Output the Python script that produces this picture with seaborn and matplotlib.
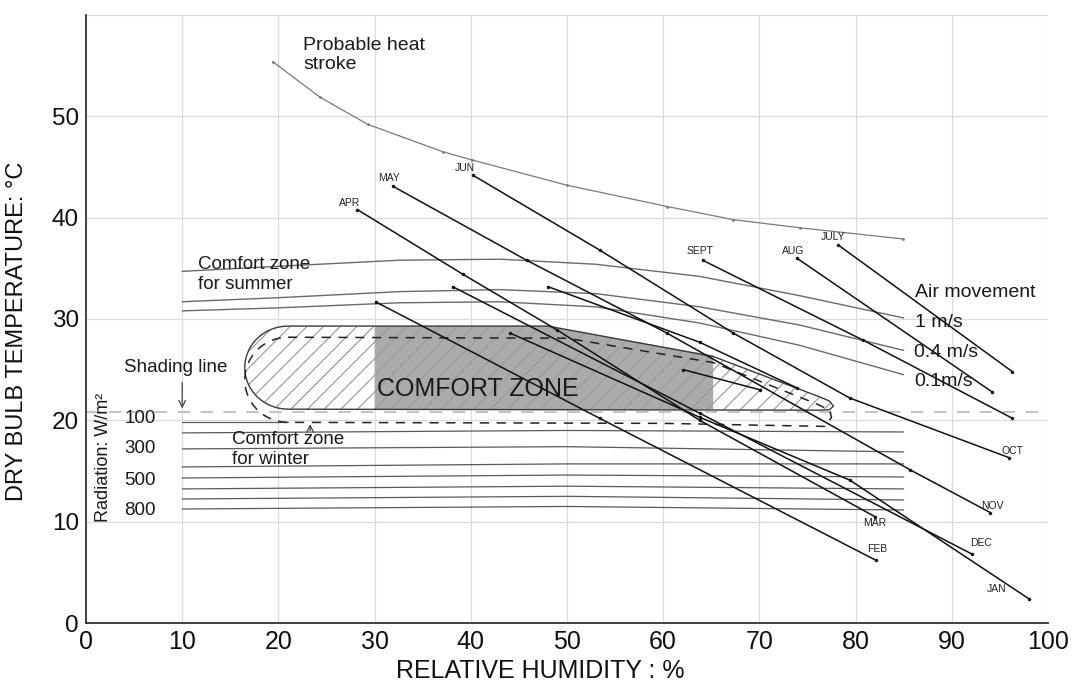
import numpy as np
import matplotlib
matplotlib.use("Agg")
import matplotlib.pyplot as plt
from matplotlib import font_manager
from matplotlib.patches import Polygon
import seaborn as sns

# ---------------- data (RH %, dry-bulb °C) ----------------
HEAT_RH = [19.4, 24.3, 29.3, 37.1, 40.1, 50.0, 60.4, 67.3, 74.2, 84.9]
HEAT_T = [55.4, 51.9, 49.2, 46.5, 45.7, 43.2, 41.1, 39.8, 39.0, 37.9]

SUMMER_RH = [10, 20, 32.6, 43, 53, 63.8, 74.2, 85]
SUMMER_1MS = [34.7, 35.2, 35.8, 35.9, 35.4, 34.2, 32.3, 30.1]
SUMMER_04MS = [31.7, 32.1, 32.7, 32.9, 32.5, 31.2, 29.4, 26.9]
SUMMER_01MS = [30.8, 31.1, 31.6, 31.7, 31.2, 29.6, 27.4, 24.5]

RAD_RH = [10, 50, 85]
RAD_1 = [18.76, 19.0, 18.85]
RAD_2 = [17.18, 17.4, 16.88]
RAD_3 = [15.40, 15.7, 15.70]
RAD_4 = [14.31, 14.6, 14.41]
RAD_5 = [13.23, 13.5, 13.23]
RAD_6 = [12.24, 12.5, 12.14]
RAD_7 = [11.25, 11.5, 11.15]
RAD_VALUES = ["100", "300", "500", "800"]
RAD_LABEL_T = [20.2, 17.2, 14.1, 11.1]

APR_RH = [28.2, 39.2, 49.0, 63.8, 82.0]
APR_T = [40.8, 34.4, 28.9, 20.0, 10.5]
MAY_RH = [31.9, 45.8, 60.4, 85.7, 94.0]
MAY_T = [43.1, 35.8, 28.6, 15.1, 10.9]
JUN_RH = [40.2, 53.4, 67.3, 79.4, 96.0]
JUN_T = [44.2, 36.8, 28.6, 22.2, 16.3]
JUL_RH = [78.2, 96.3]
JUL_T = [37.3, 24.8]
AUG_RH = [73.9, 94.2]
AUG_T = [36.0, 22.8]
SEP_RH = [64.1, 80.8, 96.3]
SEP_T = [35.8, 27.9, 20.2]
OCT_RH = [48.0, 63.8, 73.9]
OCT_T = [33.2, 27.7, 23.2]
NOV_RH = [62.1, 70.1]
NOV_T = [25.0, 23.0]
DEC_RH = [38.1, 63.8, 92.1]
DEC_T = [33.2, 20.7, 6.8]
JAN_RH = [44.1, 63.8, 79.4, 98.0]
JAN_T = [28.6, 20.3, 14.1, 2.4]
FEB_RH = [30.1, 53.4, 82.1]
FEB_T = [31.7, 20.2, 6.2]

MONTH_NAMES = ["APR", "MAY", "JUN", "SEPT", "AUG", "JULY", "OCT", "NOV", "MAR", "DEC", "FEB", "JAN"]
MONTH_LABEL_RH = [27.4, 31.5, 39.4, 63.8, 73.5, 77.7, 96.3, 94.2, 82.0, 93.0, 82.2, 94.7]
MONTH_LABEL_T = [41.4, 43.9, 44.9, 36.7, 36.7, 38.1, 17.0, 11.5, 9.9, 7.9, 7.3, 3.4]

X_TICKS = list(range(0, 101, 10))
Y_TICKS = list(range(0, 51, 10))

# comfort zone outlines
ZONE_TOP_RH = [21.0, 48.0, 65.2, 76.3]
ZONE_TOP_T = [29.3, 29.3, 26.3, 22.3]
GREY_RH = [30.0, 30.0, 48.0, 65.2, 65.2]
GREY_T = [21.1, 29.3, 29.3, 26.4, 21.1]
WINTER_TOP_RH = [21.0, 50.0, 65.2, 76.0]
WINTER_TOP_T = [28.2, 28.1, 25.7, 21.6]

# ---------------- style ----------------
sns.set_theme(style="white")
names = {f.name for f in font_manager.fontManager.ttflist}
NARROW = "Liberation Sans Narrow" if "Liberation Sans Narrow" in names else "Liberation Sans"
plt.rcParams["font.family"] = ["Liberation Sans", "DejaVu Sans"]
plt.rcParams["hatch.linewidth"] = 0.7

fig = plt.figure(figsize=(10.77, 6.9), dpi=100)
ax = fig.add_axes([0.07985, 0.0971, 0.8932, 0.8812])
ax.set_xlim(0, 100)
ax.set_ylim(0, 60)

# grid
for gx in X_TICKS[1:]:
    ax.axvline(gx, color="#dcdcdc", lw=0.9, zorder=0)
for gy in Y_TICKS[1:] + [60]:
    ax.axhline(gy, color="#dcdcdc", lw=0.9, zorder=0)

# ---------------- comfort zone shapes ----------------
def arc(cx, cy, rx, ry, a0, a1, n=24):
    a = np.radians(np.linspace(a0, a1, n))
    return list(zip(cx + rx * np.cos(a), cy + ry * np.sin(a)))

top = list(zip(ZONE_TOP_RH, ZONE_TOP_T))
right_end = [(77.3, 21.9), (77.7, 21.4), (77.3, 21.05), (76.3, 21.0)]
zone = top + right_end + [(21.0, 21.1)] + arc(21.0, 25.2, 4.5, 4.1, 270, 90)[1:]
ax.add_patch(Polygon(zone, closed=True, facecolor="white", edgecolor="#8a8a8a",
                     hatch="//", lw=0, zorder=1))
ax.add_patch(Polygon(list(zip(GREY_RH, GREY_T)), closed=True, facecolor="#ababab",
                     edgecolor="#989898", hatch="//", lw=0, zorder=1.1))
ax.add_patch(Polygon(zone, closed=True, facecolor="none", edgecolor="#3a3a3a", lw=1.0, zorder=1.2))

# winter comfort zone (dashed)
wtop = list(zip(WINTER_TOP_RH, WINTER_TOP_T))
winter = wtop + [(77.3, 21.0), (77.5, 20.3), (76.8, 19.4), (60.0, 19.7), (21.0, 19.8)] + \
    arc(21.0, 24.0, 4.5, 4.2, 270, 90)[1:]
wx, wy = zip(*winter)
ax.plot(wx, wy, color="#222222", lw=1.1, ls=(0, (6, 5)), zorder=3)

# shading line
ax.axhline(20.8, color="#c4c4c4", lw=1.5, ls=(0, (6, 5)), zorder=1.5)

# ---------------- lines via seaborn ----------------
def sline(x, y, color, lw, marker=None, z=2, ms=2.5):
    sns.lineplot(x=x, y=y, sort=False, estimator=None, color=color, linewidth=lw,
                 marker=marker, markersize=ms if marker else None, markeredgewidth=0,
                 ax=ax, legend=False, zorder=z)

sline(HEAT_RH, HEAT_T, "#7a7a7a", 0.9, marker="o", ms=2)
for s in (SUMMER_1MS, SUMMER_04MS, SUMMER_01MS):
    sline(SUMMER_RH, s, "#6a6a6a", 1.0)
for r in (RAD_1, RAD_2, RAD_3, RAD_4, RAD_5, RAD_6, RAD_7):
    sline(RAD_RH, r, "#5a5a5a", 0.9)
sline([10, 21], [19.8, 19.8], "#5a5a5a", 0.9)

for mx, my in [(APR_RH, APR_T), (MAY_RH, MAY_T), (JUN_RH, JUN_T), (JUL_RH, JUL_T),
               (AUG_RH, AUG_T), (SEP_RH, SEP_T), (OCT_RH, OCT_T), (NOV_RH, NOV_T),
               (DEC_RH, DEC_T), (JAN_RH, JAN_T), (FEB_RH, FEB_T)]:
    sline(mx, my, "#111111", 1.1, marker="o", z=4)

for name, lx, ly in zip(MONTH_NAMES, MONTH_LABEL_RH, MONTH_LABEL_T):
    ax.text(lx, ly, name, fontsize=7.5, family=[NARROW, "DejaVu Sans"], ha="center",
            va="center", color="#222222", zorder=5)

# ---------------- annotations ----------------
tk = dict(color="#1a1a1a", zorder=6)
ax.text(22.6, 57.8, "Probable heat\nstroke", fontsize=14, va="top", ha="left",
        linespacing=1.15, **tk)
ax.text(11.6, 36.2, "Comfort zone\nfor summer", fontsize=13.5, va="top", ha="left",
        linespacing=1.2, **tk)
ax.text(86.2, 32.6, "Air movement", fontsize=14, va="center", ha="left", **tk)
ax.text(86.2, 29.7, "1 m/s", fontsize=14, va="center", ha="left", **tk)
ax.text(86.1, 26.7, "0.4 m/s", fontsize=14, va="center", ha="left", **tk)
ax.text(86.1, 23.8, "0.1m/s", fontsize=14, va="center", ha="left", **tk)
ax.text(3.9, 25.2, "Shading line", fontsize=13.5, va="center", ha="left", **tk)
ax.text(30.2, 23.1, "COMFORT ZONE", fontsize=18, va="center", ha="left", **tk)
ax.text(15.2, 18.9, "Comfort zone\nfor winter", fontsize=13.5, va="top", ha="left",
        linespacing=1.2, **tk)
for v, ty in zip(RAD_VALUES, RAD_LABEL_T):
    ax.text(5.6, ty, v, fontsize=13.5, ha="center", va="center", **tk)
ax.text(1.8, 16.3, "Radiation: W/m²", fontsize=13, rotation=90, ha="center", va="center", **tk)

ax.annotate("", xy=(10.0, 20.9), xytext=(10.0, 24.0),
            arrowprops=dict(arrowstyle="->", color="#444444", lw=0.9), zorder=6)
ax.annotate("", xy=(23.3, 19.9), xytext=(23.3, 18.7),
            arrowprops=dict(arrowstyle="->", color="#444444", lw=0.9), zorder=6)

# ---------------- axes ----------------
ax.set_xticks(X_TICKS)
ax.set_yticks(Y_TICKS)
ax.set_xticklabels([str(t) for t in X_TICKS], fontsize=18, family=[NARROW, "DejaVu Sans"])
ax.set_yticklabels([str(t) for t in Y_TICKS], fontsize=17.5)
ax.tick_params(axis="both", length=0, pad=5, colors="#111111")
for side in ("top", "right"):
    ax.spines[side].set_visible(False)
ax.spines["left"].set_color("#333333")
ax.spines["bottom"].set_color("#333333")
ax.spines["left"].set_linewidth(1.3)
ax.spines["bottom"].set_linewidth(1.3)

ax.set_xlabel("RELATIVE HUMIDITY : %", fontsize=18, family=[NARROW, "DejaVu Sans"],
              color="#111111")
ax.set_ylabel("DRY BULB TEMPERATURE: °C", fontsize=17, color="#111111")
ax.xaxis.set_label_coords(0.472, -0.060)
ax.yaxis.set_label_coords(-0.060, 0.48)

fig.savefig("out.png", dpi=100)
